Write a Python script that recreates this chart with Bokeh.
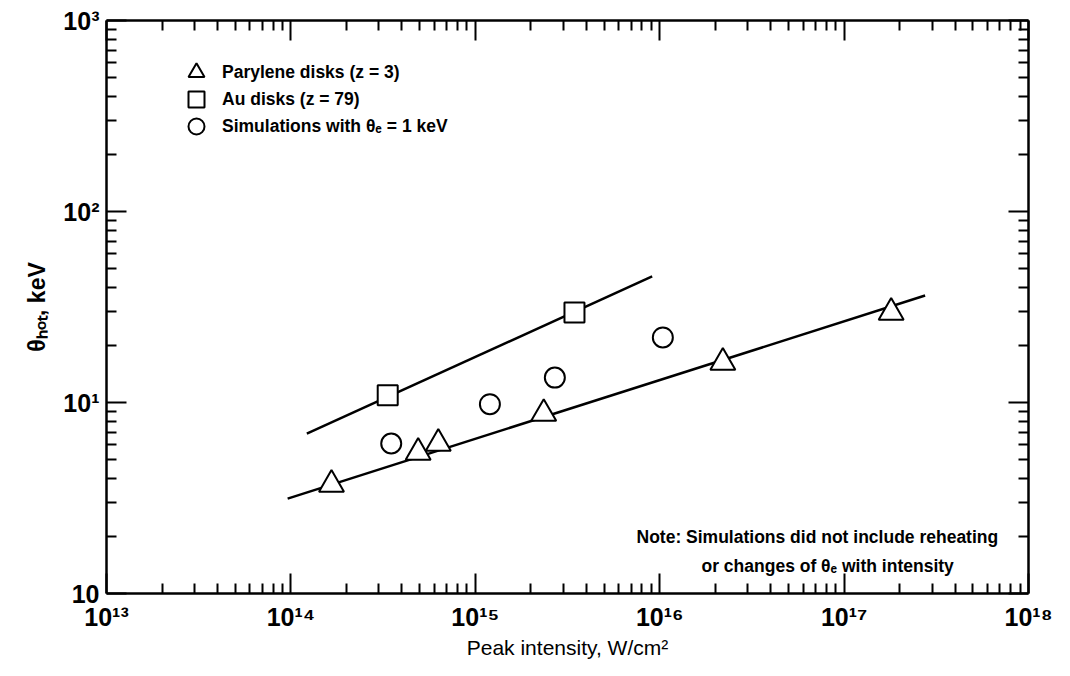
import math
from bokeh.plotting import figure
from bokeh.models import (FixedTicker, LogAxis, CustomJSTickFormatter, Legend,
                          LegendItem, Label)
from bokeh.embed import file_html
from bokeh.resources import INLINE

# ---------------- data ----------------
parylene_x = [1.66e14, 4.9e14, 6.3e14, 2.35e15, 2.2e16, 1.8e17]
parylene_y = [3.72, 5.47, 6.1, 8.75, 16.2, 29.6]

au_x = [3.35e14, 3.45e15]
au_y = [10.9, 29.6]

sim_x = [3.5e14, 1.2e15, 2.7e15, 1.04e16]
sim_y = [6.1, 9.8, 13.5, 21.9]

parylene_fit_x = [9.6e13, 2.75e17]
parylene_fit_y = [3.14, 36.3]

au_fit_x = [1.22e14, 9.1e15]
au_fit_y = [6.88, 45.7]

x_ticks = [1e13, 1e14, 1e15, 1e16, 1e17, 1e18]
x_tick_labels = ["10¹³", "10¹⁴", "10¹⁵", "10¹⁶", "10¹⁷", "10¹⁸"]
y_ticks = [1, 10, 100, 1000]
y_tick_labels = ["10", "10¹", "10²", "10³"]

legend_labels = ["Parylene disks (z = 3)", "Au disks (z = 79)",
                 "Simulations with θₑ = 1 keV"]
note_lines = ["Note: Simulations did not include reheating",
              "or changes of θₑ with intensity"]
x_label = "Peak intensity, W/cm²"
y_label = "θₕₒₜ, keV"

# ---------------- layout ----------------
W, H = 1070, 676
L, R, T, B = 106, 42, 20, 83
FW, FH = W - L - R, H - T - B

def xd(px):
    return 10 ** (13 + 5 * (px - L) / FW)

def yd(py):
    return 10 ** (3 - 3 * (py - T) / FH)

FONT = "Liberation Sans"

p = figure(width=W, height=H, x_axis_type="log", y_axis_type="log",
           x_range=(1e13, 1e18), y_range=(1, 1000),
           output_backend="svg", toolbar_location=None,
           min_border_left=L, min_border_right=R, min_border_top=T,
           min_border_bottom=B)
p.grid.visible = False
p.outline_line_color = None
p.background_fill_color = "white"
p.border_fill_color = "white"

x_minor = [d * k for d in x_ticks[:-1] for k in range(2, 10)]
y_minor = [d * k for d in y_ticks[:-1] for k in range(2, 10)]

fmt_code = """
let best = 0, bd = Infinity;
for (let i = 0; i < vals.length; i++) {
  const d = Math.abs(Math.log10(tick) - Math.log10(vals[i]));
  if (d < bd) { bd = d; best = i; }
}
return labs[best];
"""
xfmt = CustomJSTickFormatter(args=dict(vals=x_ticks, labs=x_tick_labels), code=fmt_code)
yfmt = CustomJSTickFormatter(args=dict(vals=y_ticks, labs=y_tick_labels), code=fmt_code)
blank = CustomJSTickFormatter(code="return '';")

def style(ax):
    ax.axis_line_width = 2.5
    ax.axis_line_color = "black"
    ax.major_tick_line_width = 2
    ax.minor_tick_line_width = 2
    ax.major_tick_line_color = "black"
    ax.minor_tick_line_color = "black"
    ax.major_tick_in = 20
    ax.major_tick_out = 0
    ax.minor_tick_in = 10
    ax.minor_tick_out = 0
    ax.major_label_text_font = FONT
    ax.major_label_text_font_style = "bold"
    ax.major_label_text_font_size = "25px"
    ax.major_label_text_color = "black"

xa = p.xaxis[0]
xa.ticker = FixedTicker(ticks=x_ticks, minor_ticks=x_minor)
xa.formatter = xfmt
style(xa)
xa.major_label_standoff = 9
xa.axis_label = x_label
xa.axis_label_text_font = FONT
xa.axis_label_text_font_style = "normal"
xa.axis_label_text_font_size = "21px"
xa.axis_label_text_color = "black"
xa.axis_label_standoff = 2

ya = p.yaxis[0]
ya.ticker = FixedTicker(ticks=y_ticks, minor_ticks=y_minor)
ya.formatter = yfmt
style(ya)
ya.major_label_standoff = 7
ya.major_label_orientation = "horizontal"
ya.axis_label = y_label
ya.axis_label_text_font = FONT
ya.axis_label_text_font_style = "bold"
ya.axis_label_text_font_size = "23px"
ya.axis_label_text_color = "black"
ya.axis_label_standoff = 10

top = LogAxis(ticker=FixedTicker(ticks=x_ticks, minor_ticks=x_minor), formatter=blank)
style(top)
top.major_label_standoff = 0
p.add_layout(top, "above")
right = LogAxis(ticker=FixedTicker(ticks=y_ticks, minor_ticks=y_minor), formatter=blank)
style(right)
right.major_label_standoff = 0
p.add_layout(right, "right")

# ---------------- glyphs ----------------
p.line(parylene_fit_x, parylene_fit_y, line_color="black", line_width=2.5)
p.line(au_fit_x, au_fit_y, line_color="black", line_width=2.5)

r_tri = p.scatter(parylene_x, parylene_y, marker="triangle", size=25,
                  fill_color="white", line_color="black", line_width=2)
r_sq = p.scatter(au_x, au_y, marker="square", size=20,
                 fill_color="white", line_color="black", line_width=2)
r_ci = p.scatter(sim_x, sim_y, marker="circle", size=20,
                 fill_color="white", line_color="black", line_width=2)

# legend: one Legend per row so the rows can be packed closely
renderers = [r_tri, r_sq, r_ci]
row_bottoms = [501, 474, 447]
for lab, rr, vy in zip(legend_labels, renderers, row_bottoms):
    lg = Legend(items=[LegendItem(label=lab, renderers=[rr])],
                location=(70, vy), glyph_width=40, glyph_height=40,
                padding=0, margin=0, label_standoff=6,
                border_line_color=None, background_fill_alpha=0,
                label_text_font=FONT, label_text_font_style="bold",
                label_text_font_size="17.5px", label_text_color="black")
    p.add_layout(lg)

# note
p.add_layout(Label(x=xd(636), y=yd(536), text=note_lines[0], text_font=FONT,
                   text_font_style="bold", text_font_size="17.5px",
                   text_baseline="alphabetic", text_color="black"))
p.add_layout(Label(x=xd(701), y=yd(565), text=note_lines[1], text_font=FONT,
                   text_font_style="bold", text_font_size="17.5px",
                   text_baseline="alphabetic", text_color="black"))

open("out.html", "w").write(file_html(p, INLINE))
